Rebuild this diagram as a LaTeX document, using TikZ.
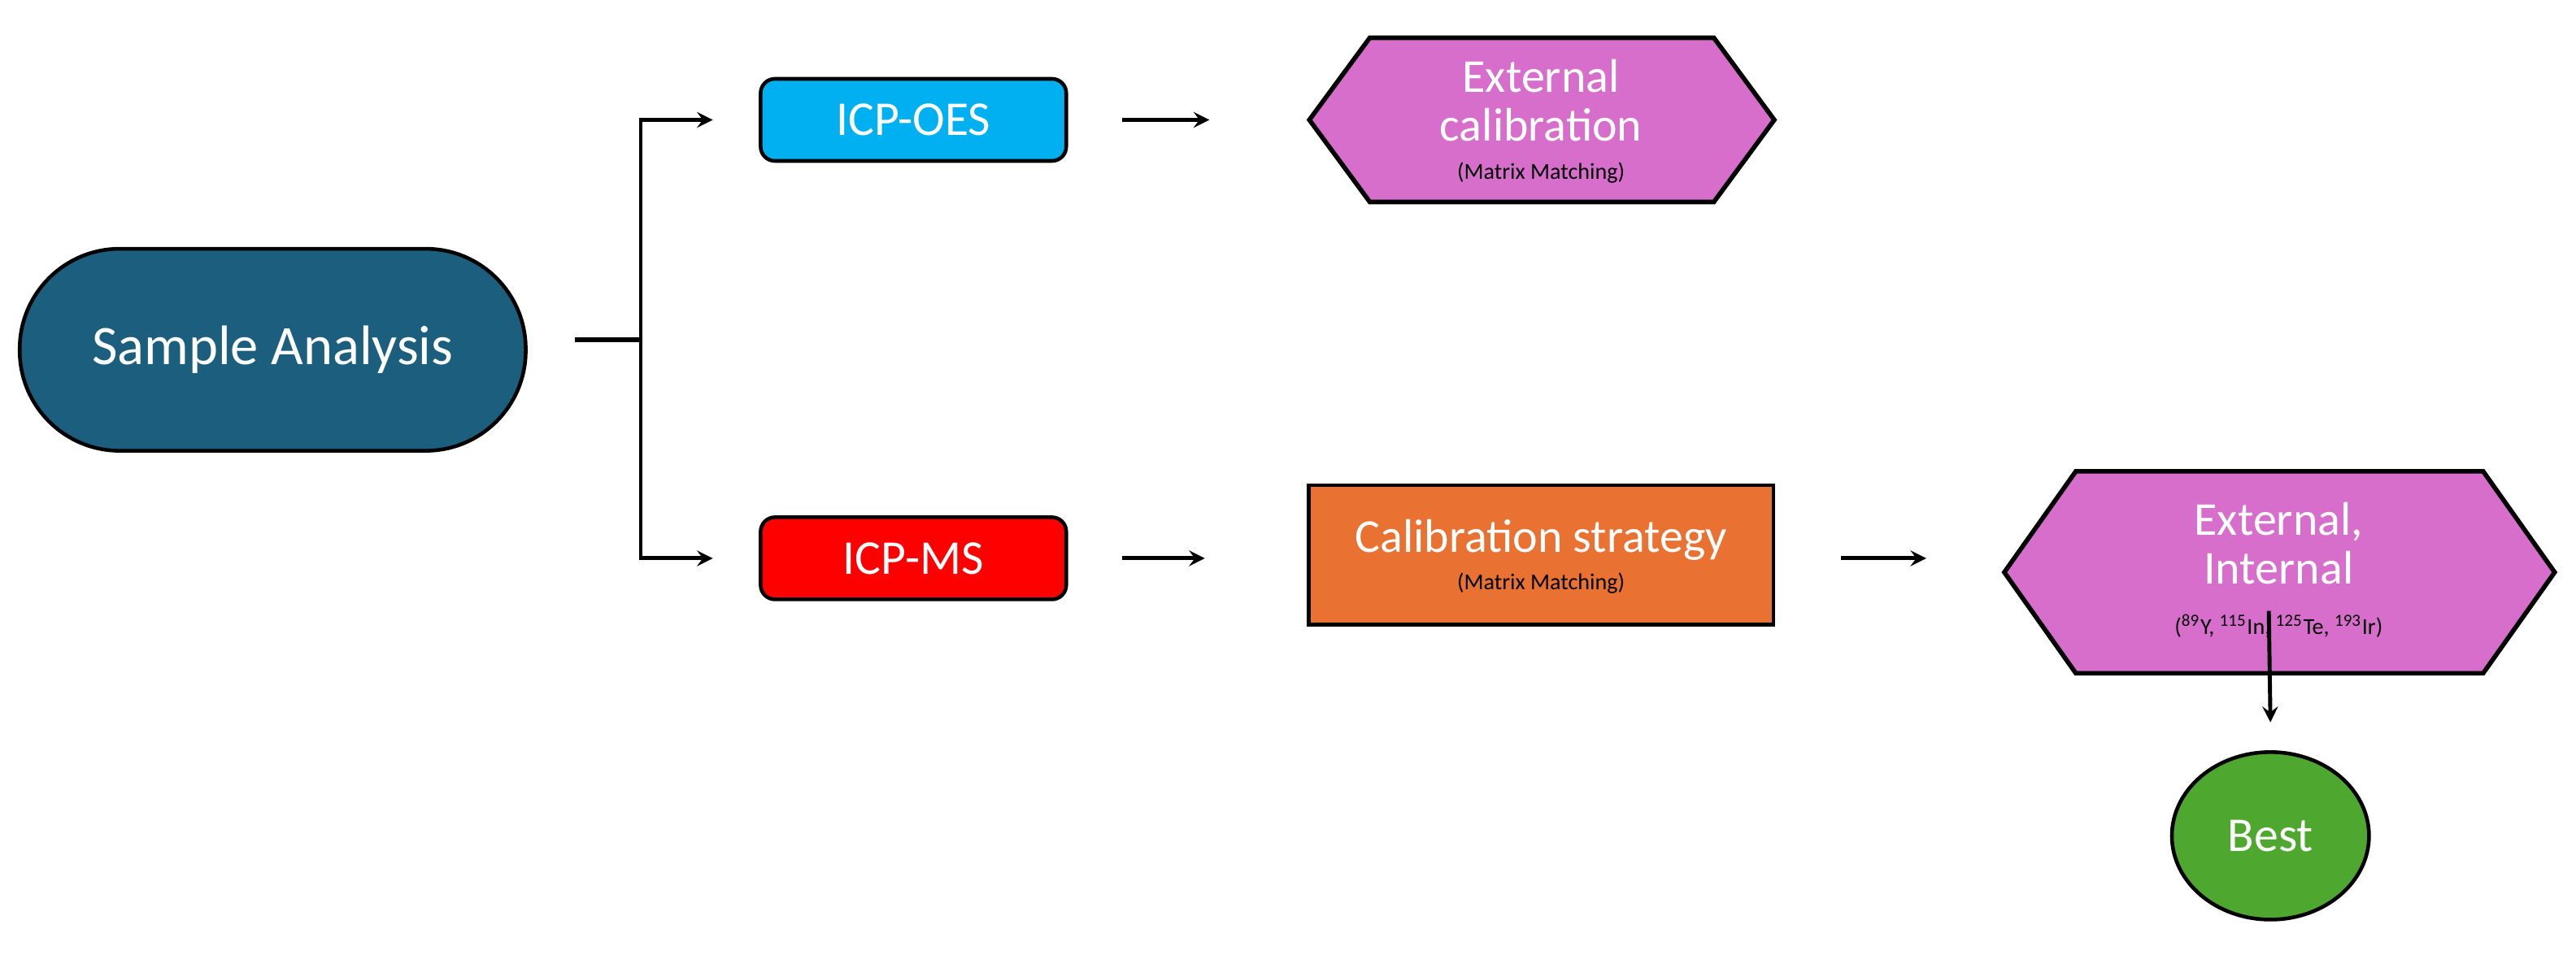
\documentclass[tikz,border=0pt]{standalone}
\usepackage{fontspec}
\setmainfont{Carlito}
\usepackage{xcolor}
\usetikzlibrary{positioning}
\usetikzlibrary{calc}
\usetikzlibrary{shapes.geometric}
\tikzset{>=stealth}
\definecolor{samp}{HTML}{1B5E7E}
\definecolor{oes}{HTML}{00B0F0}
\definecolor{strat}{HTML}{E97132}
\definecolor{hexa}{HTML}{D86ECC}
\definecolor{best}{HTML}{4EA72E}
\tikzset{
  box/.style={draw=black,line width=1.3pt,text=white,font=\fontsize{17}{20}\selectfont,align=center},
  big/.style={text=white,font=\fontsize{16.5}{17}\selectfont,align=center},
  arr/.style={->,line width=1.4pt,>=stealth},
  hex/.style={draw=black,line width=1.6pt,fill=hexa},
  small/.style={font=\fontsize{8}{10}\selectfont,text=black}
}
\newcommand{\hexagon}[5]{% name, x1, x2, ytop, ybottom
  \draw[hex] (#2,{(#4+#5)/2}) -- ({#2+(#3-#2)*0.13},#4) -- ({#3-(#3-#2)*0.13},#4)
    -- (#3,{(#4+#5)/2}) -- ({#3-(#3-#2)*0.13},#5) -- ({#2+(#3-#2)*0.13},#5) -- cycle;
  \coordinate (#1) at ({(#2+#3)/2},{(#4+#5)/2});
}

\begin{document}
\begin{tikzpicture}[x=0.0202cm,y=-0.0202cm]
  \useasboundingbox (0,0) rectangle (1568,589);
  % left part
  \node[box,fill=samp,rounded corners=35pt,minimum width=308*0.0202cm,minimum height=123*0.0202cm,font=\fontsize{19.5}{24}\selectfont] (samp) at (166,213) {Sample Analysis};
  \coordinate (split) at (390,207);
  \coordinate (samp-e) at (350,207);
  \node[box,fill=oes,rounded corners=5pt,minimum width=186*0.0202cm,minimum height=50*0.0202cm] (oes) at (556,73) {ICP-OES};
  \node[box,fill=red,rounded corners=5pt,minimum width=186*0.0202cm,minimum height=50*0.0202cm] (ms) at (556,340) {ICP-MS};
  \draw[line width=1.6pt] (samp-e) -- (split);
  \draw[arr] (split) |- ($(oes.west)+(-28,0)$);
  \draw[arr] (split) |- ($(ms.west)+(-28,0)$);
  % upper row
  \hexagon{cal}{797}{1080}{23}{123}
  \node[big] (calt) at (938,61) {External\\calibration};
  \node[small] at (938,105) {(Matrix Matching)};
  \draw[arr] ($(oes.east)+(33,0)$) -- ($(oes.east)+(86,0)$);
  % lower row
  \node[box,fill=strat,minimum width=283*0.0202cm,minimum height=85*0.0202cm] (strat) at (938,338) {};
  \node[big] at (938,329) {Calibration strategy};
  \node[small] at (938,355) {(Matrix Matching)};
  \draw[arr] ($(ms.east)+(33,0)$) -- ($(strat.west)+(-62,2)$);
  \hexagon{ext}{1220}{1555}{287}{410}
  \node[big] at (1387,331) {External,\\Internal};
  \node[font=\fontsize{8}{10}\selectfont,text=black] (iso) at (1387,381) {(\textsuperscript{89}Y, \textsuperscript{115}In, \textsuperscript{125}Te, \textsuperscript{193}Ir)};
  \draw[arr] ($(strat.east)+(40,2)$) -- ($(ext)+(-215,-8.5)$);
  \node[draw=black,line width=1.3pt,fill=best,ellipse,minimum width=120*0.0202cm,minimum height=102*0.0202cm,text=white,font=\fontsize{17}{20}\selectfont] (best) at (1382,509) {Best};
  \coordinate (iso-s) at (1381,372);
  \draw[arr] (iso-s) -- ($(best.north)+(0,-17)$);
\end{tikzpicture}
\end{document}
